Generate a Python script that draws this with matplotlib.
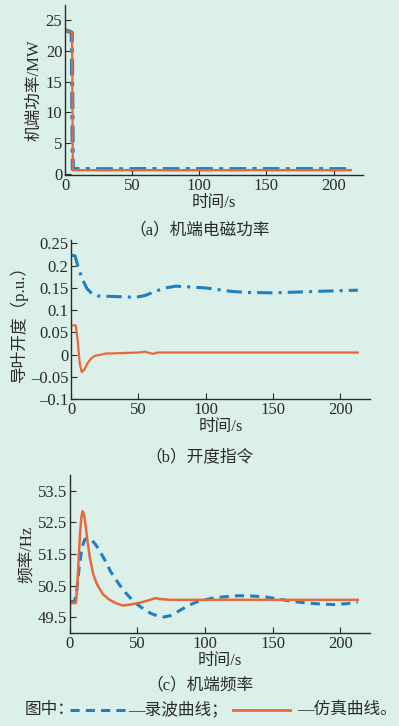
import numpy as np
import matplotlib
matplotlib.use("Agg")
import matplotlib.pyplot as plt
from matplotlib.lines import Line2D

plt.rcParams['font.family'] = ['Liberation Serif', 'Noto Sans CJK SC', 'DejaVu Sans']
plt.rcParams['axes.unicode_minus'] = False

BG = '#dcf0ea'
BLUE = '#1f7fc4'
ORANGE = '#e8683a'
TXT = '#2a2a2a'

# (a) terminal power, MW
t_pa_rec = [0, 1, 3, 5, 5.4, 5.8, 8, 20, 40, 60, 80, 100, 120, 140, 160, 180, 200, 213]
p_rec = [23.4, 23.35, 23.2, 23.0, 12.0, 0.8, 0.75, 0.75, 0.72, 0.76, 0.74, 0.75, 0.73, 0.76, 0.74, 0.75, 0.74, 0.75]
t_pa_sim = [0, 1, 3, 5.2, 5.5, 5.8, 8, 20, 40, 60, 80, 100, 120, 140, 160, 180, 200, 213]
p_sim = [23.4, 23.3, 23.15, 23.0, 12.0, 0.6, 0.6, 0.58, 0.6, 0.6, 0.58, 0.6, 0.6, 0.6, 0.6, 0.6, 0.6, 0.6]

# (b) guide vane opening, p.u.
t_gv_rec = [0, 3, 5, 8, 12, 16, 20, 30, 40, 48, 55, 62, 70, 78, 90, 100, 110, 120, 130, 150, 170, 190, 213]
gv_rec = [0.224, 0.222, 0.20, 0.172, 0.148, 0.136, 0.132, 0.131, 0.13, 0.129, 0.133, 0.142, 0.15, 0.154,
          0.152, 0.15, 0.146, 0.142, 0.14, 0.139, 0.141, 0.143, 0.145]
t_gv_sim = [0, 3.5, 5, 6.5, 8, 10, 12, 15, 18, 22, 26, 30, 40, 50, 55, 58, 61, 64, 70, 100, 213]
gv_sim = [0.066, 0.066, 0.03, -0.02, -0.039, -0.033, -0.02, -0.008, -0.002, 0.0, 0.003, 0.003, 0.004,
          0.005, 0.007, 0.004, 0.002, 0.005, 0.005, 0.005, 0.005]

# (c) terminal frequency, Hz
t_f_rec = [0, 3.5, 5, 7, 9, 11, 13, 16, 19, 22, 26, 30, 35, 40, 45, 50, 55, 60, 65, 70, 75, 80, 88, 95,
           105, 115, 125, 135, 145, 155, 165, 175, 185, 195, 205, 213]
f_rec = [50.0, 50.0, 50.3, 51.1, 51.7, 51.95, 52.0, 51.95, 51.8, 51.6, 51.3, 50.96, 50.63, 50.33, 50.1,
         49.9, 49.75, 49.62, 49.54, 49.51, 49.56, 49.68, 49.88, 50.0, 50.1, 50.15, 50.18, 50.17, 50.14,
         50.07, 50.0, 49.95, 49.92, 49.9, 49.93, 49.98]
t_f_sim = [0, 4.5, 5.5, 6.5, 7.5, 8.5, 9.5, 10.5, 11.5, 12.8, 14.8, 17.3, 20, 24.4, 29.4, 34, 39, 45, 52,
           58, 63, 68, 75, 100, 213]
f_sim = [49.95, 49.95, 50.5, 51.3, 52.1, 52.65, 52.85, 52.75, 52.45, 52.0, 51.38, 50.86, 50.55, 50.23,
         50.05, 49.95, 49.87, 49.9, 49.96, 50.03, 50.1, 50.07, 50.05, 50.05, 50.05]

xticks = [0, 50, 100, 150, 200]

fig = plt.figure(figsize=(3.99, 7.26), dpi=100, facecolor=BG)


def style(ax):
    ax.set_facecolor(BG)
    for s in ['top', 'right']:
        ax.spines[s].set_visible(False)
    for s in ['left', 'bottom']:
        ax.spines[s].set_color(TXT)
        ax.spines[s].set_linewidth(1.0)
    ax.tick_params(direction='in', length=4, width=0.8, colors=TXT, labelsize=12, pad=2)
    ax.set_xlim(0, 222)
    ax.set_xticks(xticks)
    ax.set_xlabel('时间/s', fontsize=12, color=TXT, labelpad=1)


ax1 = fig.add_axes([0.163, 0.759, 0.747, 0.234])
style(ax1)
ax1.plot(t_pa_rec, p_rec, color=BLUE, lw=3, ls=(0, (4, 1.5, 1, 1.5)))
ax1.plot(t_pa_sim, p_sim, color=ORANGE, lw=1.6)
ax1.set_ylim(-0.2, 27.5)
ax1.set_yticks([0, 5, 10, 15, 20, 25])
ax1.set_ylabel('机端功率/MW', fontsize=12, color=TXT, labelpad=2)

ax2 = fig.add_axes([0.178, 0.450, 0.749, 0.219])
style(ax2)
ax2.plot(t_gv_rec, gv_rec, color=BLUE, lw=2.2, ls=(0, (5, 2, 1, 2)))
ax2.plot(t_gv_sim, gv_sim, color=ORANGE, lw=1.6)
ax2.set_ylim(-0.1, 0.257)
ax2.set_yticks([-0.1, -0.05, 0, 0.05, 0.1, 0.15, 0.2, 0.25])
ax2.set_yticklabels(['\u20130.1', '\u20130.05', '0', '0.05', '0.1', '0.15', '0.2', '0.25'])
ax2.set_ylabel('导叶开度（p.u.）', fontsize=12, color=TXT, labelpad=2)

ax3 = fig.add_axes([0.175, 0.128, 0.752, 0.218])
style(ax3)
ax3.plot(t_f_rec, f_rec, color=BLUE, lw=2.2, ls=(0, (3, 2)))
ax3.plot(t_f_sim, f_sim, color=ORANGE, lw=1.8)
ax3.set_ylim(49, 54)
ax3.set_yticks([49.5, 50.5, 51.5, 52.5, 53.5])
ax3.set_ylabel('频率/Hz', fontsize=12, color=TXT, labelpad=2)

cap = dict(ha='center', va='center', fontsize=12, color=TXT)
fig.text(0.50, 1 - 230 / 726, '（a）机端电磁功率', **cap)
fig.text(0.50, 1 - 457 / 726, '（b）开度指令', **cap)
fig.text(0.50, 1 - 685 / 726, '（c）机端频率', **cap)

# legend line at the bottom
ly = 1 - 710 / 726
fig.text(25 / 399, ly, '图中：', ha='left', va='center', fontsize=12, color=TXT)
fig.add_artist(Line2D([70 / 399, 125 / 399], [ly, ly], color=BLUE, lw=2.2, ls=(0, (3, 2))))
fig.text(128 / 399, ly, '—录波曲线；', ha='left', va='center', fontsize=12, color=TXT)
fig.add_artist(Line2D([233 / 399, 290 / 399], [ly, ly], color=ORANGE, lw=2.0))
fig.text(297 / 399, ly, '—仿真曲线。', ha='left', va='center', fontsize=12, color=TXT)

fig.savefig('out.png', dpi=100, facecolor=BG)
